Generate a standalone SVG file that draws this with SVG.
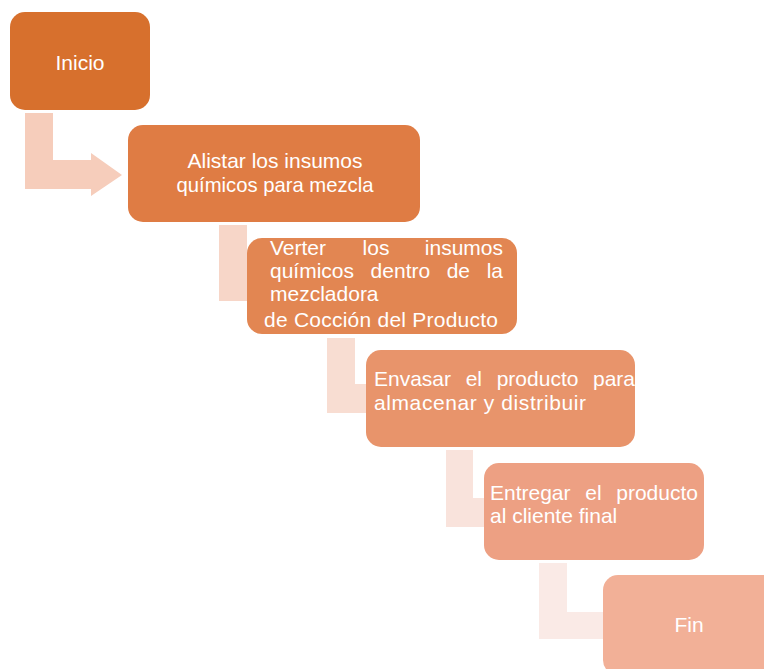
<svg xmlns="http://www.w3.org/2000/svg" width="764" height="669" viewBox="0 0 764 669">
  <style>
    .box text { font-family: "Liberation Sans", Arial, sans-serif; font-size: 21px; fill: #ffffff; }
    .mid { text-anchor: middle; }
    .end { text-anchor: end; }
  </style>
  <rect width="764" height="669" fill="#ffffff"/>

  <!-- bent arrows leading from each step down to the next -->
  <g id="connectors">
    <path d="M25,113 H53 V160 H91 V153 L122,175 L91,196 V189 H25 Z" fill="#F6CDBB"/>
    <path d="M219,225 H247 V273 H262 V266 L282,287 L262,308 V301 H219 Z" fill="#F7D6C8"/>
    <path d="M327,338 H355 V384 H375 V377 L395,398 L375,419 V413 H327 Z" fill="#F8DDD2"/>
    <path d="M446,450 H473 V498 H495 V491 L515,512 L495,533 V527 H446 Z" fill="#F9E3DC"/>
    <path d="M539,563 H567 V612 H615 V605 L635,626 L615,647 V639 H539 Z" fill="#FAEAE6"/>
  </g>

  <g id="inicio" class="box">
    <rect x="10" y="12" width="140" height="98" rx="15" fill="#D7702D"/>
    <text x="80" y="70" class="mid">Inicio</text>
  </g>

  <g id="alistar" class="box">
    <rect x="128" y="125" width="292" height="97" rx="15" fill="#DF7C44"/>
    <text x="275" y="168" class="mid">Alistar los insumos</text>
    <text x="275" y="192" class="mid" textLength="197" lengthAdjust="spacingAndGlyphs">químicos para mezcla</text>
  </g>

  <!-- justified lines: words placed with even gaps -->
  <g id="verter" class="box">
    <rect x="247" y="238" width="270" height="96" rx="15" fill="#E28652"/>
    <text y="255"><tspan x="270">Verter</tspan><tspan x="362.6">los</tspan><tspan x="503" class="end">insumos</tspan></text>
    <text y="278"><tspan x="270">químicos</tspan><tspan x="370.6">dentro</tspan><tspan x="446.7">de</tspan><tspan x="503" class="end">la</tspan></text>
    <text x="270" y="301">mezcladora</text>
    <text x="264" y="327" textLength="234" lengthAdjust="spacing">de Cocción del Producto</text>
  </g>

  <g id="envasar" class="box">
    <rect x="366" y="350" width="269" height="97" rx="15" fill="#E8946B"/>
    <text y="386"><tspan x="374">Envasar</tspan><tspan x="465.7">el</tspan><tspan x="496.7">producto</tspan><tspan x="635" class="end">para</tspan></text>
    <text x="374" y="410" textLength="212" lengthAdjust="spacing">almacenar y distribuir</text>
  </g>

  <g id="entregar" class="box">
    <rect x="484" y="463" width="220" height="97" rx="15" fill="#EDA083"/>
    <text y="500"><tspan x="490">Entregar</tspan><tspan x="585.3">el</tspan><tspan x="698" class="end">producto</tspan></text>
    <text x="490" y="523">al cliente final</text>
  </g>

  <g id="fin" class="box">
    <rect x="603" y="575" width="175" height="100" rx="15" fill="#F2B097"/>
    <text x="689" y="632" class="mid">Fin</text>
  </g>
</svg>
